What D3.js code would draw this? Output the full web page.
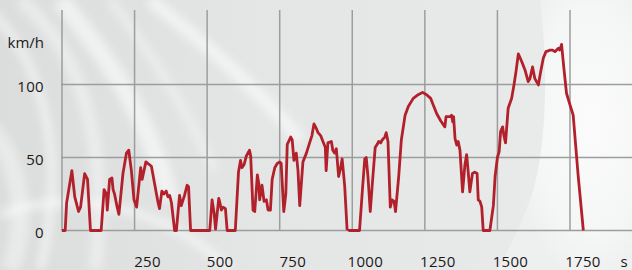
<!DOCTYPE html>
<html>
<head>
<meta charset="utf-8">
<script src="https://cdn.jsdelivr.net/npm/d3@7"></script>
<style>
  html, body { margin: 0; padding: 0; background: #e4e5e5; }
  #chart { width: 632px; height: 270px; overflow: hidden; }
  text { font-family: "Open Sans", "Noto Sans", sans-serif; fill: #1a1a1a; }
</style>
</head>
<body>
<div id="chart"></div>
<script>
// 时间 (s) 与速度 (km/h)
const times = [0, 11, 16, 34, 44, 57, 64, 78, 88, 98, 135, 145, 153, 156, 164, 172, 176, 181, 190, 196,
  210, 222, 230, 239, 248, 257, 271, 276, 289, 308, 319, 331, 336, 344, 351, 359, 365, 371, 377, 388,
  394, 405, 411, 417, 422, 431, 436, 443, 509, 517, 524, 529, 540, 544, 549, 555, 563, 569, 597, 608,
  615, 620, 627, 635, 646, 650, 658, 664, 673, 678, 681, 689, 696, 704, 710, 718, 724, 733, 742, 750,
  755, 764, 771, 776, 788, 793, 799, 807, 813, 819, 830, 842, 853, 861, 868, 876, 882, 891, 899, 907,
  910, 916, 928, 933, 939, 945, 953, 960, 965, 969, 974, 982, 991, 1025, 1035, 1043, 1048, 1054, 1062, 1071,
  1079, 1086, 1091, 1098, 1103, 1112, 1117, 1123, 1131, 1137, 1144, 1149, 1160, 1169, 1182, 1193, 1210, 1227, 1242, 1256,
  1270, 1279, 1291, 1305, 1319, 1323, 1337, 1342, 1346, 1349, 1354, 1360, 1365, 1371, 1380, 1388, 1394, 1399, 1405, 1414,
  1422, 1430, 1434, 1440, 1446, 1451, 1474, 1486, 1492, 1500, 1506, 1511, 1518, 1522, 1528, 1537, 1549, 1557, 1564, 1572,
  1584, 1595, 1606, 1612, 1621, 1629, 1641, 1649, 1658, 1667, 1675, 1681, 1690, 1698, 1710, 1715, 1721, 1729, 1738, 1750,
  1761, 1778, 1796];
const speeds = [0, 0, 19, 41, 23, 13, 16, 39, 35, 0, 0, 28, 25, 14, 35, 36, 28, 25, 16, 11,
  39, 53, 55, 41, 21, 16, 43, 35, 47, 44, 32, 19, 15, 27, 25, 27, 23, 24, 19, 0,
  0, 24, 17, 21, 24, 31, 30, 0, 0, 21, 12, 1, 22, 19, 14, 16, 15, 0, 0, 40,
  48, 43, 45, 51, 55, 51, 14, 13, 38, 32, 21, 31, 20, 21, 14, 14, 35, 43, 46, 47,
  46, 13, 25, 59, 64, 62, 48, 53, 41, 17, 47, 53, 60, 65, 73, 70, 67, 65, 61, 57,
  41, 60, 61, 55, 53, 56, 37, 43, 49, 41, 30, 1, 0, 0, 28, 49, 50, 37, 13, 37,
  57, 59, 61, 60, 62, 64, 67, 61, 16, 21, 20, 13, 37, 62, 79, 85, 90.5, 93, 94.6, 93,
  90.5, 86, 80, 75, 71, 78, 78, 79, 74.5, 78, 63, 58.5, 61, 55, 26.5, 45, 52, 41, 26.5, 39,
  40, 39, 21, 20, 16, 0, 0, 17, 37, 50, 54, 67.7, 71, 65.4, 60, 83.7, 90.5, 99.7, 108.8, 121,
  115.6, 110, 102, 104, 112, 104, 99.7, 108.8, 118, 122.5, 123, 123.6, 123.6, 122.5, 124.8, 123.6, 127.5, 111, 94, 86,
  79, 38, 0];
const xTicks = [0, 250, 500, 750, 1000, 1250, 1500, 1750];
const xLabels = ["250", "500", "750", "1000", "1250", "1500", "1750"];
const yTicks = [0, 50, 100];

const W = 632, H = 270;
const svg = d3.select("#chart").append("svg")
  .attr("width", W).attr("height", H);

const x = d3.scaleLinear().domain([0, 1800]).range([62, 584.5]);
const y = d3.scaleLinear().domain([0, 100]).range([230.5, 84.5]);

// 背景
const defs = svg.append("defs");
const bg = defs.append("linearGradient").attr("id", "bg");
[["0%", "#dbdcdc"], ["40%", "#e4e5e5"], ["80%", "#e8e9e9"], ["100%", "#eceded"]]
  .forEach(s => bg.append("stop").attr("offset", s[0]).attr("stop-color", s[1]));
const glow = defs.append("radialGradient").attr("id", "glow")
  .attr("cx", "0.7").attr("cy", "0.45").attr("r", "0.6");
[["0%", "#fbfbfb"], ["70%", "#f5f6f6"], ["100%", "#eeefef"]]
  .forEach(s => glow.append("stop").attr("offset", s[0]).attr("stop-color", s[1]));
defs.append("filter").attr("id", "blur")
  .append("feGaussianBlur").attr("stdDeviation", 4);

svg.append("rect").attr("width", W).attr("height", H).attr("fill", "url(#bg)");
// 右侧亮区
svg.append("path")
  .attr("d", "M540,0 C548,60 548,150 530,200 C515,240 505,255 498,270 L632,270 L632,0 Z")
  .attr("fill", "url(#glow)");

// 左上角白色光带
const streaks = [
  "M-10,10 C40,60 70,150 40,270",
  "M20,0 C80,50 110,140 95,270",
  "M60,0 C110,60 150,120 170,200",
  "M110,0 C150,50 180,100 215,170",
  "M150,0 C200,40 250,80 300,140",
  "M-20,120 C20,150 30,220 10,270",
  "M0,215 C60,190 160,200 230,270"
];
svg.append("g").attr("filter", "url(#blur)")
  .selectAll("path").data(streaks).enter().append("path")
  .attr("d", d => d)
  .attr("fill", "none")
  .attr("stroke", "#ffffff")
  .attr("stroke-opacity", (d, i) => i % 2 ? 0.4 : 0.55)
  .attr("stroke-width", (d, i) => 8 + (i % 3) * 5);

// 网格
const grid = svg.append("g").attr("stroke", "#9c9d9d").attr("stroke-width", 1.5);
grid.selectAll(".v").data(xTicks).enter().append("line")
  .attr("x1", d => x(d)).attr("x2", d => x(d))
  .attr("y1", 10).attr("y2", y(0));
grid.selectAll(".h").data(yTicks).enter().append("line")
  .attr("x1", x(0) - 1).attr("x2", W)
  .attr("y1", d => y(d)).attr("y2", d => y(d));

// 曲线
const line = d3.line()
  .x((d, i) => x(times[i]))
  .y(d => y(d));
svg.append("path")
  .datum(speeds)
  .attr("d", line)
  .attr("fill", "none")
  .attr("stroke", "#b1202b")
  .attr("stroke-width", 2.8)
  .attr("stroke-linejoin", "round");

// 坐标标签
svg.selectAll(".yl").data(yTicks).enter().append("text")
  .attr("x", 44).attr("y", d => y(d) + 7.5)
  .attr("text-anchor", "end")
  .style("font-size", "15px")
  .style("letter-spacing", "0.3px")
  .text(d => d);
svg.append("text").attr("x", 44).attr("y", 48)
  .attr("text-anchor", "end").style("font-size", "15px").text("km/h");

svg.selectAll(".xl").data(xLabels).enter().append("text")
  .attr("x", d => x(+d) + 13).attr("y", 267)
  .attr("text-anchor", "middle")
  .style("font-size", "15px")
  .style("letter-spacing", "0.3px")
  .text(d => d);
svg.append("text").attr("x", 624).attr("y", 267)
  .attr("text-anchor", "middle").style("font-size", "15px").text("s");
</script>
</body>
</html>
